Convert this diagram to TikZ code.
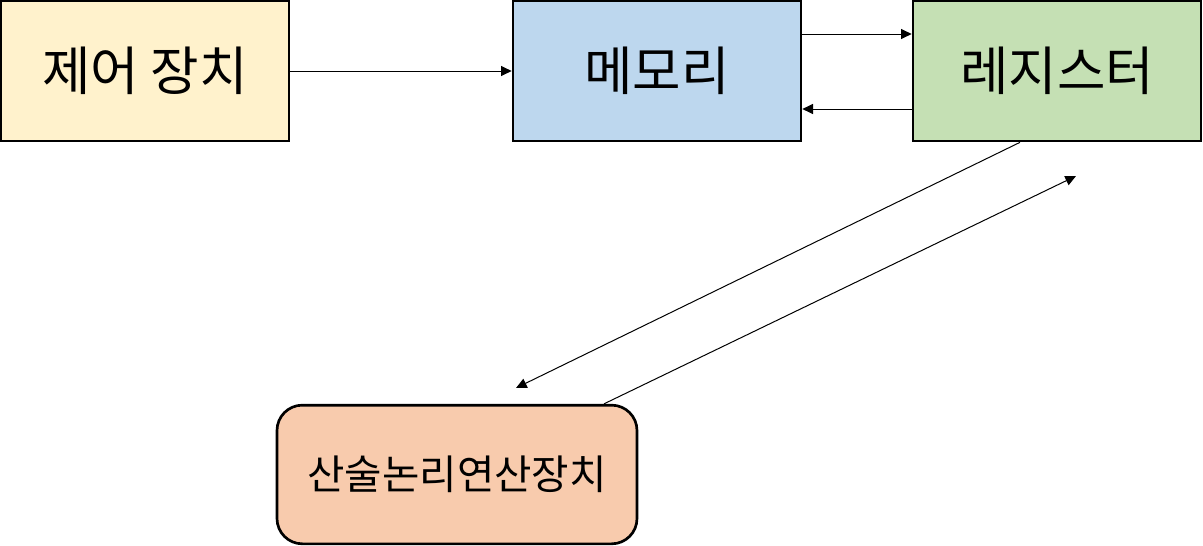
\documentclass[tikz,border=0pt]{standalone}
\usepackage{fontspec}
\setmainfont{Noto Sans CJK KR}
\usetikzlibrary{arrows.meta,calc}
\definecolor{cy}{HTML}{FFF2CC}
\definecolor{cb}{HTML}{BDD7EE}
\definecolor{cg}{HTML}{C5E0B4}
\definecolor{co}{HTML}{F8CBAD}
\begin{document}
\begin{tikzpicture}[x=0.75pt,y=-0.75pt,
  unitbox/.style={draw=black,line width=2pt,minimum width=216pt,minimum height=105pt,inner sep=0pt,font=\fontsize{39.5}{46}\selectfont},
  arr/.style={line width=0.75pt,-{Triangle[length=8pt,width=7.5pt]}}]
\useasboundingbox (0,0) rectangle (1203,546);
\node[unitbox,fill=cy] (ctrl) at (145,71) {제어 장치};
\node[unitbox,fill=cb] (mem) at (657,71) {메모리};
\node[unitbox,fill=cg] (reg) at (1057,71) {레지스터};
\node[unitbox,fill=co,rounded corners=19pt,minimum width=270pt,minimum height=104pt,font=\fontsize{30.5}{36}\selectfont] (alu) at (457,474.5) {산술논리연산장치};
\coordinate (p1) at (516,388);
\coordinate (p2) at (1076,176);
\draw[arr] (ctrl.east) -- (mem.west);
\draw[arr] ([yshift=27.75pt]mem.east) -- ([yshift=27.75pt]reg.west);
\draw[arr] ([yshift=-28.5pt]reg.west) -- ([yshift=-28.5pt]mem.east);
\draw[arr] ([xshift=-27.75pt]reg.south) -- (p1);
\draw[arr] ([xshift=110.25pt]alu.north) -- (p2);
\end{tikzpicture}
\end{document}
